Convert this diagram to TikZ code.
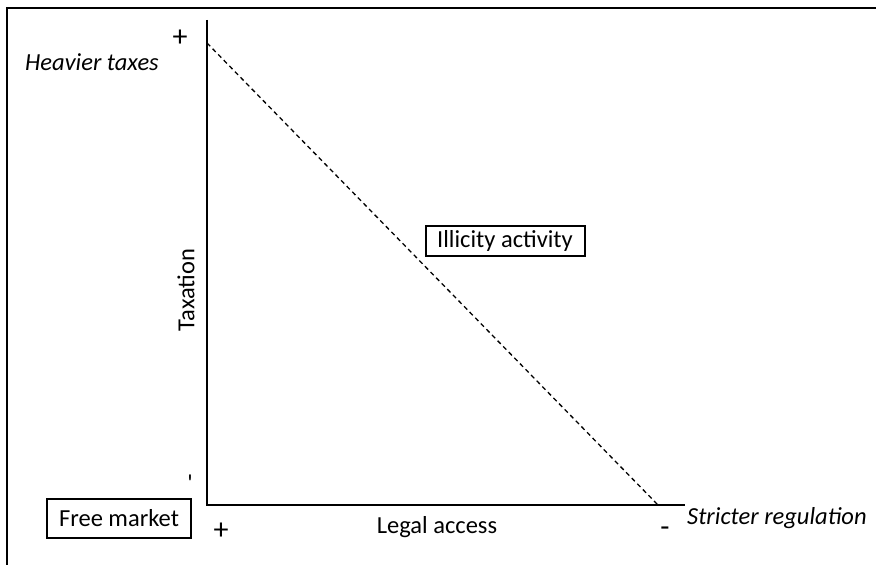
\documentclass[tikz,border=0pt]{standalone}
\usepackage{fontspec}
\setmainfont{Carlito}
\usetikzlibrary{positioning}

\begin{document}
\begin{tikzpicture}[x=1pt,y=1pt,
    lbl/.style={font=\fontsize{24.5}{29}\selectfont,inner sep=0pt},
    tag/.style={lbl,font=\fontsize{24.5}{29}\selectfont\itshape},
    sign/.style={lbl,font=\fontsize{30}{34}\selectfont},
    labelbox/.style={lbl,draw,line width=2pt,minimum width=#1},
    axis/.style={line width=2.2pt}]
  \useasboundingbox (0,0) rectangle (876,565);
  \draw[line width=2.4pt] (7,0) -- (7,557) -- (876,557);
  % axes
  \coordinate (o) at (207,60);
  \coordinate (ytop) at (207,545);
  \coordinate (xend) at (685,60);
  \draw[axis] (ytop) -- (o) -- (xend);
  \coordinate (dstart) at (207,522);
  \coordinate (dend) at (658,60);
  \draw[line width=1.3pt,dash pattern=on 4.5pt off 3.5pt] (dstart) -- (dend);
  % labels
  \node[labelbox=159pt,minimum height=30pt] (illicit) at (505,324) {Illicity activity};
  \node[labelbox=144pt,minimum height=39pt] (free) at (119,46.5) {Free market};
  \node[tag,anchor=west] (heavy) at (25,503) {Heavier taxes};
  \node[tag,anchor=west] (strict) at (687,47) {Stricter regulation};
  \node[sign] (taxplus) at (180,527) {+};
  \node[lbl] (taxminus) at (190,82) {\textquotesingle};
  \node[sign] (accplus) at (221,34) {+};
  \node[sign] (accminus) at (665,33) {-};
  \node[lbl] (legal) at (437,38) {Legal access};
  \node[lbl,rotate=90] (tax) at (186,275) {Taxation};
\end{tikzpicture}
\end{document}
